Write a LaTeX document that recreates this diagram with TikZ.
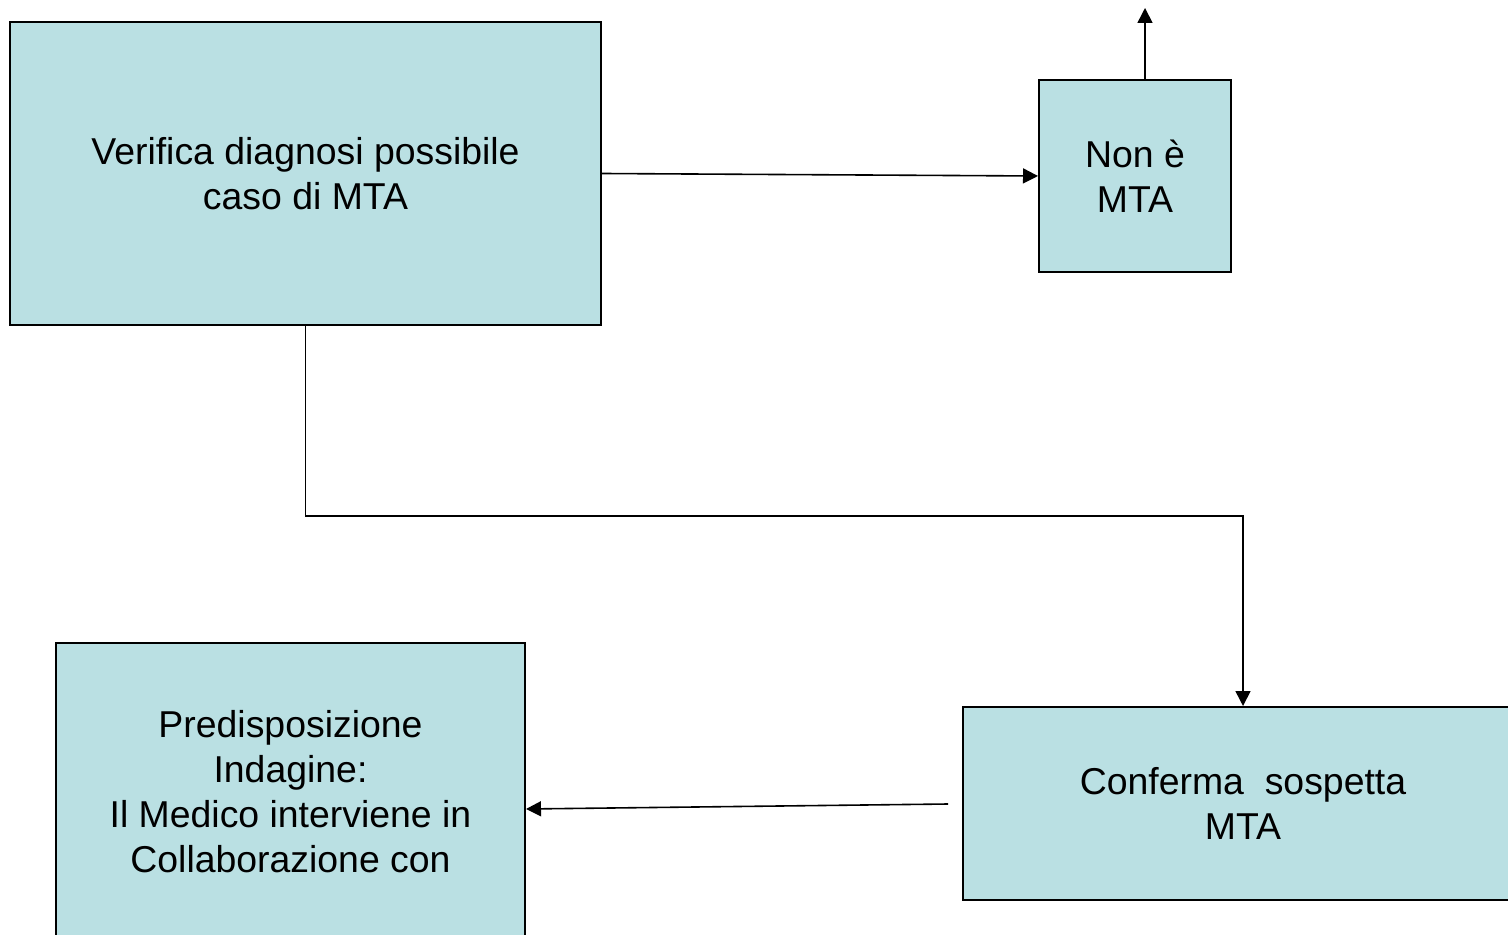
\documentclass[tikz,border=0pt]{standalone}
\usepackage{fontspec}
\setmainfont{Liberation Sans}
\usetikzlibrary{arrows.meta}
\definecolor{boxfill}{RGB}{186,224,227}
\begin{document}
\begin{tikzpicture}[x=0.5pt,y=-0.5pt,
  flowbox/.style={draw=black, line width=1pt, fill=boxfill, inner sep=0pt,
    align=center, font=\fontsize{18.7}{22.5}\selectfont},
  link/.style={line width=0.8pt, -{Triangle[length=7.5pt,width=7.5pt]}}]
\useasboundingbox (0,0) rectangle (1508,935);
\begin{scope}
\clip (0,0) rectangle (1508,935);
% process boxes
\node[flowbox, minimum width=295.5pt, minimum height=151.5pt] (verifica) at (305.5,173.5)
  {Verifica diagnosi possibile\\caso di MTA};
\node[flowbox, minimum width=96pt, minimum height=96pt] (nonmta) at (1135,176)
  {Non è\\MTA};
\node[flowbox, minimum width=280pt, minimum height=96.5pt] (conferma) at (1243,803.5)
  {Conferma\ \ sospetta\\MTA};
\node[flowbox, minimum width=234.5pt, minimum height=149pt] (indagine) at (290.5,792)
  {Predisposizione\\Indagine:\\Il Medico interviene in\\Collaborazione con};
% connectors
\coordinate (top) at (1145,8);
\coordinate (bend) at (1243,516);
\draw[link] (verifica.east) -- (nonmta.west);
\draw[link] ([xshift=5pt]nonmta.north) -- (top);
\draw[link] (verifica.south) |- (bend) -- (conferma.north);
\draw[link] ([xshift=-7pt,yshift=-0.25pt]conferma.west) -- ([yshift=-8.5pt]indagine.east);
\end{scope}
\end{tikzpicture}
\end{document}
